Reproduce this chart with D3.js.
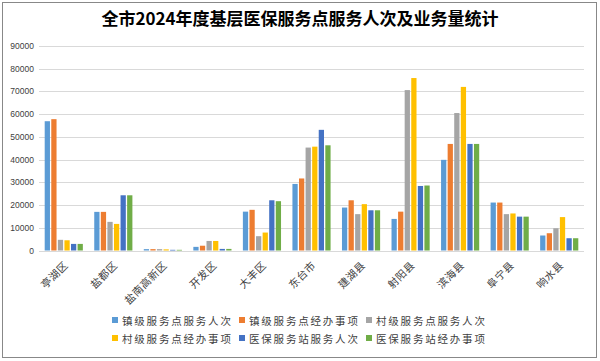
<!DOCTYPE html>
<html>
<head>
<meta charset="utf-8">
<script src="https://d3js.org/d3.v7.min.js"></script>
<style>
body { margin: 0; background: #fff; }
svg { display: block; font-family: "Noto Sans CJK SC", "Noto Sans", sans-serif; }
</style>
</head>
<body>
<svg width="600" height="361"></svg>
<script>
// categories and series
var regions = ["亭湖区", "盐都区", "盐南高新区", "开发区", "大丰区", "东台市", "建湖县", "射阳县", "滨海县", "阜宁县", "响水县"];
var seriesNames = ["镇级服务点服务人次", "镇级服务点经办事项", "村级服务点服务人次", "村级服务点经办事项", "医保服务站服务人次", "医保服务站经办事项"];
var townVisits  = [56900, 17000, 600, 1600, 17100, 29300, 18900, 13900, 39900, 21100, 6600];
var townItems   = [57800, 17000, 600, 2100, 17900, 31700, 22100, 17100, 46900, 21100, 7600];
var villVisits  = [4700, 12600, 600, 4200, 6300, 45300, 16000, 70600, 60500, 16000, 9800];
var villItems   = [4500, 11700, 500, 4200, 7900, 45700, 20400, 75900, 72000, 16300, 14700];
var stationVisits = [2900, 24300, 300, 700, 22100, 53100, 17700, 28400, 46900, 14900, 5400];
var stationItems  = [2900, 24300, 300, 700, 21700, 46300, 17700, 28600, 46900, 14900, 5400];
var yTicks = [0, 10000, 20000, 30000, 40000, 50000, 60000, 70000, 80000, 90000];
var colors = ["#5B9BD5", "#ED7D31", "#A5A5A5", "#FFC000", "#4472C4", "#70AD47"];

var series = [townVisits, townItems, villVisits, villItems, stationVisits, stationItems];

var svg = d3.select("svg");

// outer frame
svg.append("rect")
  .attr("x", 2.5).attr("y", 2.5)
  .attr("width", 594).attr("height", 355)
  .attr("fill", "#fff").attr("stroke", "#888").attr("stroke-width", 1);

svg.append("text")
  .attr("x", 300).attr("y", 25)
  .attr("text-anchor", "middle")
  .attr("font-size", 17).attr("font-weight", "bold")
  .attr("fill", "#000")
  .text("全市2024年度基层医保服务点服务人次及业务量统计");

var plotL = 39, plotR = 584, plotT = 46, plotB = 250.5;

var x = d3.scaleBand().domain(regions).range([plotL, plotR]).paddingInner(0.23).paddingOuter(0.115);
var xs = d3.scaleBand().domain(d3.range(6)).range([0, x.bandwidth()]).paddingInner(0.2);
var y = d3.scaleLinear().domain([0, 90000]).range([plotB, plotT]);

// grid
svg.append("g").selectAll("line")
  .data(yTicks)
  .join("line")
  .attr("x1", plotL).attr("x2", plotR)
  .attr("y1", d => Math.round(y(d)) + 0.5).attr("y2", d => Math.round(y(d)) + 0.5)
  .attr("stroke", "#d9d9d9").attr("stroke-width", 1);

// y labels
svg.append("g").selectAll("text")
  .data(yTicks)
  .join("text")
  .attr("x", 34).attr("y", d => y(d) + 3)
  .attr("text-anchor", "end")
  .attr("font-size", 8.5).attr("fill", "#404040")
  .attr("font-family", "Liberation Sans, Arial, sans-serif")
  .text(d => d);

// bars
var groups = svg.append("g").selectAll("g")
  .data(regions)
  .join("g")
  .attr("transform", d => "translate(" + x(d) + ",0)");

groups.selectAll("rect")
  .data((d, i) => series.map((s, k) => ({k: k, v: s[i]})))
  .join("rect")
  .attr("x", d => xs(d.k))
  .attr("width", xs.bandwidth())
  .attr("y", d => y(d.v))
  .attr("height", d => y(0) - y(d.v))
  .attr("fill", d => colors[d.k]);

// x labels, rotated
svg.append("g").selectAll("text")
  .data(regions)
  .join("text")
  .attr("transform", d => "translate(" + (x(d) + x.bandwidth() / 2 + 5) + ",266) rotate(-45)")
  .attr("text-anchor", "end")
  .attr("font-size", 10.5).attr("fill", "#404040")
  .attr("letter-spacing", 0.5)
  .text(d => d);

// legend
var legX = [112, 239, 366], legY = [321, 339];
var leg = svg.append("g").selectAll("g")
  .data(seriesNames)
  .join("g")
  .attr("transform", (d, i) => "translate(" + legX[i % 3] + "," + legY[Math.floor(i / 3)] + ")");
leg.append("rect")
  .attr("x", 0).attr("y", -4).attr("width", 6).attr("height", 6)
  .attr("fill", (d, i) => colors[i]);
leg.append("text")
  .attr("x", 10).attr("y", 3.5)
  .attr("font-size", 10.5).attr("fill", "#404040")
  .attr("letter-spacing", 1.8)
  .text(d => d);
</script>
</body>
</html>
